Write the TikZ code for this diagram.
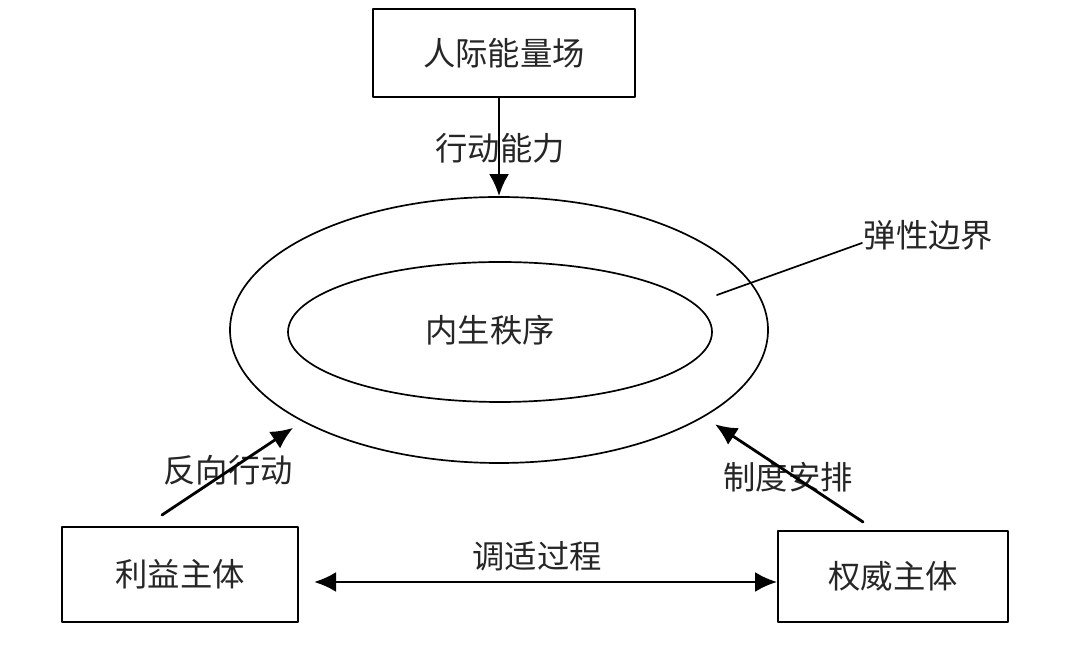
\documentclass[tikz,border=0pt]{standalone}
\usepackage{fontspec}
\newfontfamily\cjk{Noto Sans CJK SC}
\usetikzlibrary{arrows.meta,calc,shapes.geometric}

\begin{document}
\begin{tikzpicture}[>={Latex[length=5.5mm,width=5mm]}, line cap=round, line join=round,
    every node/.style={font=\cjk\fontsize{23}{27}\selectfont, text=black!85},
    box/.style={draw, line width=1.3pt, inner sep=0pt},
    ring/.style={draw, ellipse, line width=1.2pt, inner sep=0pt},
    link/.style={->, line width=2pt}]
            \useasboundingbox (0,0) rectangle (26.675,16.375);

            \node[box, minimum width=6.55cm, minimum height=2.2cm] (energy) at (12.6,15.05) {人际能量场};
            \node[box, minimum width=5.9cm, minimum height=2.375cm] (benefit) at (4.5,2.0125) {利益主体};
            \node[box, minimum width=5.75cm, minimum height=2.275cm] (authority) at (22.325,1.9625) {权威主体};

            \node[ring, minimum width=13.45cm, minimum height=6.65cm] (outer) at (12.475,8.125) {};
            \node[ring, minimum width=10.6cm, minimum height=3.5cm] (inner) at (12.5,8.075) {};
            \node (order) at (12.25,8.125) {内生秩序};

            \node (act) at (12.5,12.675) {行动能力};
            \node (counter) at (5.7,4.625) {反向行动};
            \node (inst) at (19.7,4.45) {制度安排};
            \node (adjust) at (13.425,2.475) {调适过程};
            \node[anchor=west, inner sep=1pt] (elastic) at (21.55,10.5) {弹性边界};

            \coordinate (ringpt) at (17.925,9.0);
            \coordinate (counterTail) at (4.05,3.5);
            \coordinate (instTail) at (21.575,3.325);
            \coordinate (adjL) at (7.85,1.825);

            \draw[link] (energy.south -| outer.north) -- (outer.north);
            \draw[link, shorten >=0.28cm] (counterTail) -- (outer.205.4);
            \draw[link, shorten >=0.33cm] (instTail) -- (outer.337.7);
            \draw[link, <->] (adjL) -- (authority.west |- adjL);
            \draw[line width=1.2pt] (ringpt) -- ([yshift=-0.2cm]elastic.west);

        \end{tikzpicture}
\end{document}
